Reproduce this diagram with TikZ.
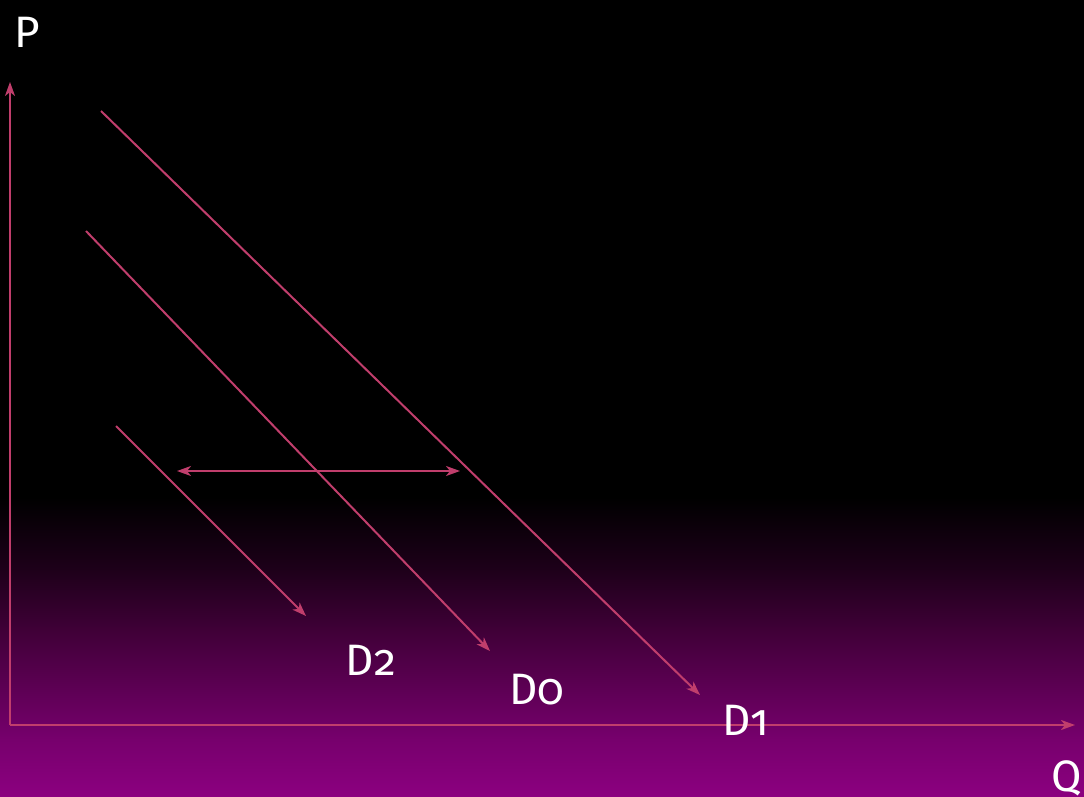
\documentclass[tikz,border=0pt]{standalone}
\usepackage{fontspec}
\setmainfont{Fira Sans}[Numbers=OldStyle]
\usetikzlibrary{arrows.meta}
\definecolor{linec}{RGB}{192,62,108}
\definecolor{purp}{RGB}{140,0,128}
\definecolor{purpA}{RGB}{118,0,108}
\definecolor{purpB}{RGB}{62,0,54}
\definecolor{purpC}{RGB}{30,0,26}
\tikzset{
  tip/.style={Stealth[length=14pt,width=10pt,inset=4pt]},
  curve/.style={draw=linec, line width=2pt, -{Stealth[length=14pt,width=10pt,inset=4pt]}},
  axis/.style={draw=linec, line width=2pt, -{Stealth[length=14pt,width=10pt,inset=4pt]}},
  dbl/.style={draw=linec, line width=2pt, {Stealth[length=14pt,width=10pt,inset=4pt]}-{Stealth[length=14pt,width=10pt,inset=4pt]}},
  lab/.style={text=white, font=\fontsize{44}{44}\selectfont, inner sep=0pt}
}
\begin{document}
\begin{tikzpicture}[x=1pt,y=-1pt]
\fill[black] (0,0) rectangle (1084,498);
\shade[top color=black, bottom color=purpC] (0,497) rectangle (1084,571);
\shade[top color=purpC, bottom color=purpB] (0,570) rectangle (1084,628);
\shade[top color=purpB, bottom color=purpA] (0,627) rectangle (1084,738);
\shade[top color=purpA, bottom color=purp] (0,737) rectangle (1084,797);
\useasboundingbox (0,0) rectangle (1084,797);
\coordinate (O) at (10,725);
\coordinate (Ytop) at (10,82);
\coordinate (Xend) at (1075,725);
\draw[axis] (O) -- (Ytop);
\draw[axis] (O) -- (Xend);
\coordinate (a1) at (101,111); \coordinate (b1) at (700,695);
\coordinate (a0) at (86,231); \coordinate (b0) at (490,651);
\coordinate (a2) at (116,426); \coordinate (b2) at (306,616);
\coordinate (hl) at (177,471); \coordinate (hr) at (460,471);
\draw[curve] (a1) -- (b1);
\draw[curve] (a0) -- (b0);
\draw[curve] (a2) -- (b2);
\draw[dbl] (hl) -- (hr);
\node[lab] (P) at (27,32) {P};
\node[lab] (Q) at (1067,778) {Q};
\node[lab] (D2) at (371,660) {D2};
\node[lab] (D0) at (537,690) {D0};
\node[lab] (D1) at (746,720) {D1};
\end{tikzpicture}
\end{document}
